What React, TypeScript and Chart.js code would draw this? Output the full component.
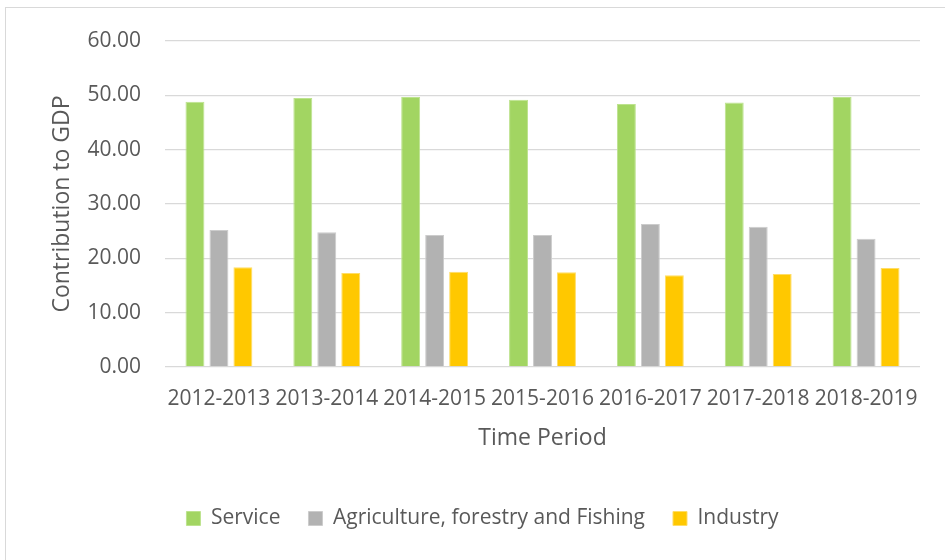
import React, { useEffect, useRef } from "react";
import { Chart, registerables } from "chart.js";

Chart.register(...registerables);

const categories = ["2012-2013", "2013-2014", "2014-2015", "2015-2016", "2016-2017", "2017-2018", "2018-2019"];
const serviceValues = [48.8, 49.5, 49.7, 49.2, 48.4, 48.7, 49.7];
const agricultureValues = [25.2, 24.8, 24.3, 24.3, 26.3, 25.8, 23.6];
const industryValues = [18.35, 17.3, 17.55, 17.45, 16.9, 17.1, 18.2];
const seriesNames = ["Service", "Agriculture, forestry and Fishing", "Industry"];
const yTitle = "Contribution to GDP";
const xTitle = "Time Period";

const FONT = "'Open Sans', sans-serif";
const TEXT = "#595959";

const framePlugin = {
  id: "frame",
  beforeDraw(chart: any) {
    const ctx = chart.ctx;
    ctx.save();
    ctx.fillStyle = "#ffffff";
    ctx.fillRect(0, 0, chart.width, chart.height);
    ctx.strokeStyle = "#d9d9d9";
    ctx.lineWidth = 1;
    ctx.strokeRect(5.5, 7.5, chart.width + 20, chart.height + 20);
    ctx.restore();
  },
};

export default function App() {
  const ref = useRef<HTMLCanvasElement | null>(null);
  useEffect(() => {
    if (!ref.current) return;
    const chart = new Chart(ref.current, {
      type: "bar",
      data: {
        labels: categories,
        datasets: [
          { label: seriesNames[0], data: serviceValues, backgroundColor: "#a2d562", borderColor: "#bde38e", borderWidth: 1 },
          { label: seriesNames[1], data: agricultureValues, backgroundColor: "#b2b2b2", borderColor: "#cccccc", borderWidth: 1 },
          { label: seriesNames[2], data: industryValues, backgroundColor: "#ffc800", borderColor: "#ffdd66", borderWidth: 1 },
        ],
      },
      options: {
        animation: false,
        responsive: false,
        devicePixelRatio: 1,
        layout: { padding: { top: 41, right: 0, left: 20, bottom: 21 } },
        datasets: { bar: { categoryPercentage: 0.667, barPercentage: 0.79 } },
        plugins: {
          tooltip: { enabled: false },
          legend: {
            position: "bottom",
            labels: {
              boxWidth: 14,
              boxHeight: 14,
              padding: 28,
              color: TEXT,
              font: { family: FONT, size: 21 },
            },
          },
        },
        scales: {
          x: {
            grid: { display: false },
            border: { display: false },
            ticks: { color: TEXT, font: { family: FONT, size: 21 }, padding: 11, maxRotation: 0, autoSkip: false },
            title: { display: true, text: xTitle, color: TEXT, font: { family: FONT, size: 23 }, padding: { top: 0, bottom: 28 } },
            afterFit: (s: any) => { s.height = 113; },
          },
          y: {
            min: 0,
            max: 60,
            grid: { color: "#d9d9d9", lineWidth: 1.3, drawTicks: false },
            border: { display: false },
            ticks: {
              stepSize: 10,
              color: TEXT,
              font: { family: FONT, size: 21 },
              padding: 24,
              callback: (v: any) => Number(v).toFixed(2),
            },
            title: { display: true, text: yTitle, color: TEXT, font: { family: FONT, size: 23 }, padding: { top: 29, bottom: 0 } },
            afterFit: (s: any) => { s.width = 145; },
          },
          yRight: {
            type: "linear",
            position: "right",
            display: true,
            grid: { display: false },
            border: { display: false },
            ticks: { display: false },
            afterFit: (s: any) => { s.width = 25; },
          },
        },
      },
      plugins: [framePlugin],
    });
    return () => chart.destroy();
  }, []);
  return (
    <div style={{ position: "absolute", left: 0, top: 0, width: 945, height: 560, overflow: "hidden" }}>
      <canvas ref={ref} width={945} height={560} style={{ display: "block" }} />
    </div>
  );
}
